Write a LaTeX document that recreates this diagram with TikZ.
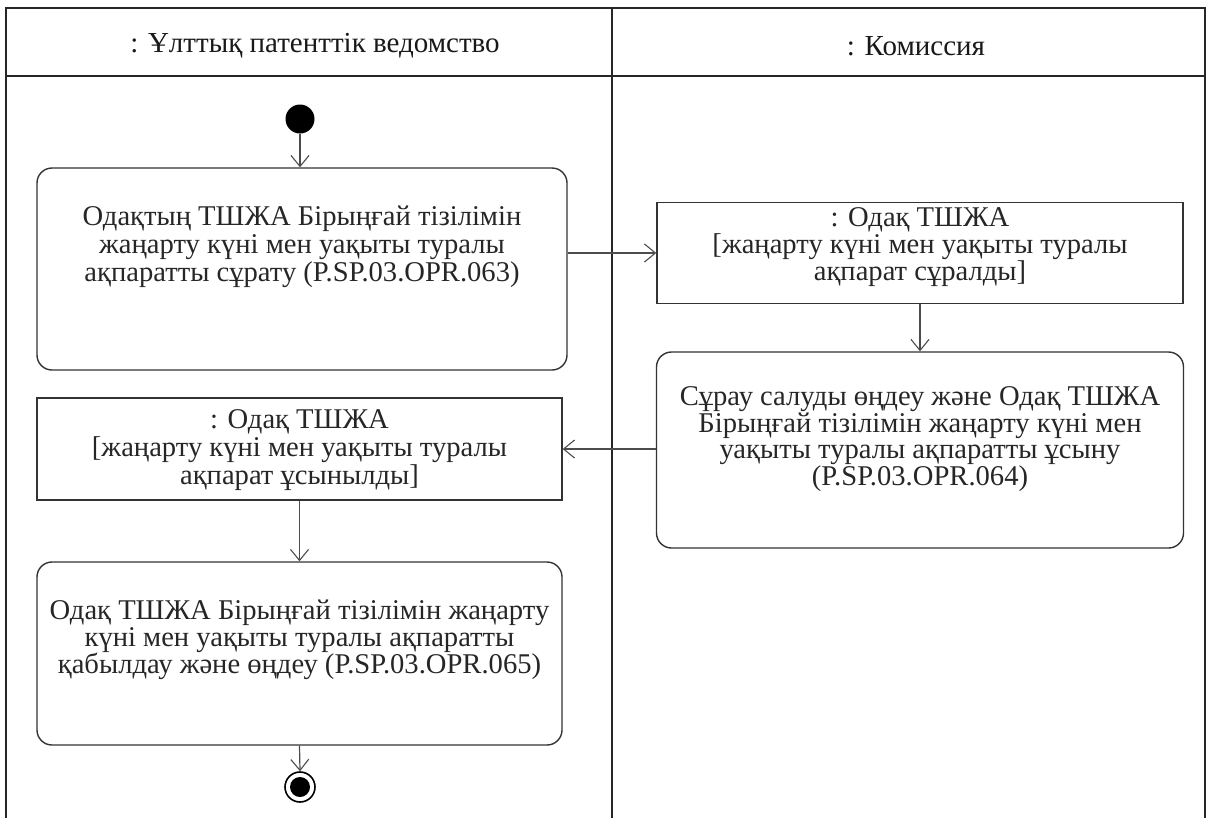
\documentclass[tikz,border=0pt]{standalone}
\usepackage{fontspec}
\setmainfont{Liberation Serif}
\usetikzlibrary{arrows.meta}
\begin{document}
\begin{tikzpicture}[x=1pt,y=-1pt,
  frameline/.style={line width=2pt,draw=black!85},
  actbox/.style={draw=black!80,line width=1.4pt,rounded corners=15pt,inner sep=0pt},
  objbox/.style={draw=black!80,line width=1.4pt,inner sep=0pt},
  txt/.style={align=center,font=\fontsize{28.6}{28}\selectfont,inner sep=0pt,text=black!85},
  hdr/.style={font=\fontsize{29}{30}\selectfont,inner sep=0pt,text=black!90},
  arr/.style={draw=black!70,line width=1.2pt,-{Straight Barb[length=11pt,width=18pt,line width=1.1pt]}}]
\useasboundingbox (0,0) rectangle (1209,817);
% frame
\draw[frameline] (6,825) -- (6,8) -- (1205,8) -- (1205,825);
\draw[frameline,line width=2.6pt] (6,76) -- (1205,76);
\draw[frameline] (612,8) -- (612,825);
\node[hdr] (h1) at (315,46) {: Ұлттық патенттік ведомство};
\node[hdr] (h2) at (916,46) {: Комиссия};
% nodes
\node[circle,fill=black,minimum size=29pt,inner sep=0pt] (init) at (300,119) {};
\node[actbox,minimum width=530pt,minimum height=202pt] (b1) at (302,269) {};
\node[txt] (t1) at (302,247) {Одақтың ТШЖА Бірыңғай тізілімін\\жаңарту күні мен уақыты туралы\\ақпаратты сұрату (P.SP.03.OPR.063)};
\node[objbox,minimum width=526pt,minimum height=101pt] (b2) at (920,253) {};
\node[txt,font=\fontsize{28.6}{27}\selectfont] (t2) at (920,247) {: Одақ ТШЖА\\{[}жаңарту күні мен уақыты туралы\\ақпарат сұралды{]}};
\node[actbox,minimum width=527pt,minimum height=196pt] (b3) at (920,450) {};
\node[txt,font=\fontsize{28.6}{26.5}\selectfont] (t3) at (920,439) {Сұрау салуды өңдеу және Одақ ТШЖА\\Бірыңғай тізілімін жаңарту күні мен\\уақыты туралы ақпаратты ұсыну\\(P.SP.03.OPR.064)};
\node[objbox,minimum width=525pt,minimum height=102pt] (b4) at (299.5,449) {};
\node[txt] (t4) at (299.5,450) {: Одақ ТШЖА\\{[}жаңарту күні мен уақыты туралы\\ақпарат ұсынылды{]}};
\node[actbox,minimum width=525pt,minimum height=183pt] (b5) at (299.5,653.5) {};
\node[txt,font=\fontsize{28.6}{27}\selectfont] (t5) at (299.5,640) {Одақ ТШЖА Бірыңғай тізілімін жаңарту\\күні мен уақыты туралы ақпаратты\\қабылдау және өңдеу (P.SP.03.OPR.065)};
\node[circle,draw=black,line width=1.6pt,minimum size=30pt,inner sep=0pt] (fin) at (300,787) {};
\node[circle,fill=black,minimum size=20pt,inner sep=0pt] (finin) at (fin) {};
% connectors
\draw[arr] (init) -- (init |- b1.north);
\draw[arr] (b1.east |- b2.west) -- (b2.west);
\draw[arr] (b3.north |- b2.south) -- (b3.north);
\draw[arr] (b3.west |- b4.east) -- (b4.east);
\draw[arr] (b4.south) -- (b5.north);
\draw[arr] (b5.south) -- (fin.north);
\end{tikzpicture}
\end{document}
